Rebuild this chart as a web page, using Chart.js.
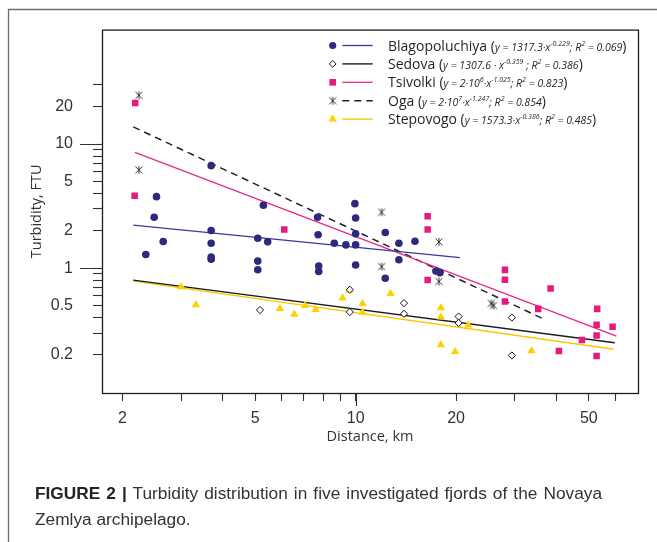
<!DOCTYPE html>
<html><head><meta charset="utf-8">
<script src="https://cdn.jsdelivr.net/npm/chart.js@4.4.0/dist/chart.umd.min.js"></script>
<style>
html,body{margin:0;padding:0;background:#fff;}
#wrap{position:relative;width:657px;height:542px;overflow:hidden;background:#fff;}
#c{position:absolute;left:0;top:0;}
.leg{position:absolute;left:388px;font-family:'Open Sans',sans-serif;font-size:14px;line-height:18px;color:#231f20;white-space:nowrap;}
.leg i{font-size:10.5px;}
.leg sup{font-size:7px;vertical-align:5px;line-height:0;}
#cap{position:absolute;left:35px;top:480px;width:567px;font-family:'Liberation Sans',Arial,sans-serif;font-size:17.3px;line-height:26px;color:#333;}
#cap .l1{display:block;text-align:justify;text-align-last:justify;white-space:nowrap;}
#cap .l2{display:block;text-align:left;}
#cap b{color:#222;}
</style></head>
<body>
<div id="wrap">
<canvas id="c" width="657" height="542"></canvas>
<div id="legend"></div>
<div id="cap"><span class="l1"><b>FIGURE 2 |</b> Turbidity distribution in five investigated fjords of the Novaya</span><span class="l2">Zemlya archipelago.</span></div>
</div>
<script>
// ---------- data ----------
const blagoX = [2.35,2.49,2.53,2.65,3.69,3.69,3.69,3.69,3.69,5.09,5.09,5.09,5.29,5.45,7.69,7.72,7.75,7.75,8.63,9.35,10.0,9.95,10.0,10.0,10.0,12.27,12.27,13.48,13.48,15.06,17.4,17.89];
const blagoY = [1.29,2.57,3.77,1.64,6.7,2.01,1.59,1.23,1.18,1.74,1.14,0.97,3.21,1.63,2.57,1.86,1.04,0.94,1.59,1.54,1.54,3.31,2.54,1.89,1.06,1.94,0.83,1.59,1.17,1.65,0.95,0.92];
const sedovaX = [5.17,9.61,9.61,13.96,13.96,20.35,20.35,29.4,29.4];
const sedovaY = [0.46,0.67,0.443,0.523,0.429,0.408,0.362,0.40,0.198];
const tsivX = [2.185,2.176,6.11,16.44,16.44,16.44,28.02,28.02,28.02,38.4,35.26,52.97,52.75,52.75,58.9,47.67,40.67,52.75];
const tsivY = [21.4,3.84,2.05,2.62,2.05,0.802,0.969,0.806,0.538,0.687,0.47,0.47,0.35,0.287,0.337,0.2635,0.215,0.196];
const ogaX = [2.24,2.24,11.96,11.96,17.77,17.77,25.5,25.9];
const ogaY = [24.7,6.19,2.82,1.03,1.63,0.781,0.52,0.50];
const stepX = [3.0,3.32,5.93,6.55,7.05,7.59,9.14,9.57,10.49,10.49,12.72,18.01,18.01,21.74,18.01,19.87,33.64];
const stepY = [0.708,0.506,0.473,0.425,0.499,0.464,0.575,0.662,0.518,0.441,0.625,0.479,0.403,0.348,0.241,0.2124,0.216];

// fitted power-law lines (end points)
const blagoFitX = [2.155,20.54];  const blagoFitY = [2.22,1.216];
const sedovaFitX = [2.155,59.8];  const sedovaFitY = [0.802,0.251];
const tsivFitX = [2.18,60.5];     const tsivFitY = [8.57,0.2836];
const ogaFitX = [2.155,36.5];     const ogaFitY = [13.75,0.391];
const stepFitX = [2.155,59.4];    const stepFitY = [0.787,0.222];

// axes
const xMin = 1.737, xMax = 70.2, yMin = 0.0987, yMax = 83.6;
const xTicks = [2,3,4,5,6,7,8,9,10,20,30,40,50,60];
const xTickLabels = [2,5,10,20,50];
const xLongTicks = [10];
const yTicks = [0.2,0.3,0.4,0.5,0.6,0.7,0.8,0.9,1,2,3,4,5,6,7,8,9,10,20,30];
const yTickLabels = [0.2,0.5,1,2,5,10,20];
const yLongTicks = [1,10];

const seriesNames = ['Blagopoluchiya','Sedova','Tsivolki','Oga','Stepovogo'];
const seriesEq = [
  'y = 1317.3·x<sup>-0.229</sup>; R<sup>2</sup> = 0.069',
  'y = 1307.6 · x<sup>-0.359</sup> ; R<sup>2</sup> = 0.386',
  'y = 2·10<sup>6</sup>·x<sup>-1.025</sup>; R<sup>2</sup> = 0.823',
  'y = 2·10<sup>7</sup>·x<sup>-1.247</sup>; R<sup>2</sup> = 0.854',
  'y = 1573.3·x<sup>-0.386</sup>; R<sup>2</sup> = 0.485'
];

// ---------- styles ----------
const navy = '#2b2a7c', navyLine = '#3a3896', mag = '#e6197d', magLine = '#e8288a', yel = '#fdd100', yelLine = '#f7c900';

function asterisk(){
  const cv = document.createElement('canvas'); cv.width = 10; cv.height = 10;
  const g = cv.getContext('2d'); g.strokeStyle = '#222'; g.lineWidth = 0.9;
  g.beginPath(); g.moveTo(1.5,1.5); g.lineTo(8.5,8.5); g.moveTo(8.5,1.5); g.lineTo(1.5,8.5);
  g.moveTo(5,1); g.lineTo(5,9); g.stroke();
  return cv;
}
const ast = asterisk();

const pts = (xs, ys) => xs.map((x,i)=>({x, y: ys[i]}));

const pointSets = [
  {data: pts(blagoX,blagoY), pointStyle:'circle', pointRadius:3.8, backgroundColor:navy, borderColor:navy, borderWidth:0},
  {data: pts(sedovaX,sedovaY), pointStyle:'rectRot', pointRadius:3.6, backgroundColor:'#fff', borderColor:'#111', borderWidth:1},
  {data: pts(tsivX,tsivY), pointStyle:'rect', pointRadius:4.6, backgroundColor:mag, borderColor:mag, borderWidth:0},
  {data: pts(ogaX,ogaY), pointStyle:ast, pointRadius:5, backgroundColor:'#333', borderColor:'#333', borderWidth:0},
  {data: pts(stepX,stepY), pointStyle:'triangle', pointRadius:4.8, backgroundColor:yel, borderColor:yel, borderWidth:0}
];
const lineSets = [
  {data: pts(blagoFitX,blagoFitY), borderColor:navyLine, borderWidth:1.3, borderDash:[]},
  {data: pts(sedovaFitX,sedovaFitY), borderColor:'#1a1a1a', borderWidth:1.4, borderDash:[]},
  {data: pts(tsivFitX,tsivFitY), borderColor:magLine, borderWidth:1.3, borderDash:[]},
  {data: pts(ogaFitX,ogaFitY), borderColor:'#222', borderWidth:1.5, borderDash:[7,5]},
  {data: pts(stepFitX,stepFitY), borderColor:yelLine, borderWidth:1.4, borderDash:[]}
];

const datasets = [];
pointSets.forEach((p,i)=>datasets.push(Object.assign({type:'scatter', label:seriesNames[i], showLine:false, pointHoverRadius:p.pointRadius, order:1}, p)));
lineSets.forEach((l,i)=>datasets.push(Object.assign({type:'line', label:seriesNames[i]+' fit', showLine:true, pointRadius:0, fill:false, tension:0, order:2}, l)));

// ---------- legend (HTML text) ----------
const legTop = 45.5, legStep = 18.4;
const legEl = document.getElementById('legend');
seriesNames.forEach((n,i)=>{
  const d = document.createElement('div'); d.className='leg';
  d.style.top = (legTop + i*legStep - 9) + 'px';
  d.innerHTML = n + ' (<i>' + seriesEq[i] + '</i>)';
  legEl.appendChild(d);
});

function drawMarker(c, style, x, y){
  c.save();
  if (style === 'circle'){ c.fillStyle = navy; c.beginPath(); c.arc(x,y,3.6,0,Math.PI*2); c.fill(); }
  else if (style === 'rectRot'){ c.fillStyle='#fff'; c.strokeStyle='#111'; c.lineWidth=1; c.beginPath(); c.moveTo(x,y-3.4); c.lineTo(x+3.4,y); c.lineTo(x,y+3.4); c.lineTo(x-3.4,y); c.closePath(); c.fill(); c.stroke(); }
  else if (style === 'rect'){ c.fillStyle = mag; c.fillRect(x-3.3,y-3.3,6.6,6.6); }
  else if (style === 'ast'){ c.drawImage(ast, x-5, y-5); }
  else if (style === 'triangle'){ c.fillStyle = yel; c.beginPath(); c.moveTo(x,y-4.8); c.lineTo(x+4.2,y+2.4); c.lineTo(x-4.2,y+2.4); c.closePath(); c.fill(); }
  c.restore();
}
const legStyles = ['circle','rectRot','rect','ast','triangle'];

const deco = {
  id:'deco',
  beforeDraw(chart){
    const c = chart.ctx;
    c.save(); c.fillStyle='#fff'; c.fillRect(0,0,chart.width,chart.height);
    c.strokeStyle='#6d6d6d'; c.lineWidth=1.3;
    c.beginPath(); c.moveTo(8,9.5); c.lineTo(chart.width,9.5); c.moveTo(8.5,9); c.lineTo(8.5,chart.height); c.stroke();
    c.restore();
  },
  afterDraw(chart){
    const c = chart.ctx, a = chart.chartArea, xs = chart.scales.x, ys = chart.scales.y;
    c.save();
    c.strokeStyle='#1e1e1e'; c.lineWidth=1.3;
    c.strokeRect(a.left+0.5, a.top+0.5, a.right-a.left, a.bottom-a.top);
    c.lineWidth=1.1; c.strokeStyle='#333';
    c.beginPath();
    yLongTicks.forEach(v=>{const p=Math.round(ys.getPixelForValue(v))+0.5; c.moveTo(a.left-22,p); c.lineTo(a.left,p);});
    xLongTicks.forEach(v=>{const p=Math.round(xs.getPixelForValue(v))+0.5; c.moveTo(p,a.bottom); c.lineTo(p,a.bottom+13);});
    c.stroke();
    // legend symbols
    lineSets.forEach((l,i)=>{
      const y = legTop + i*legStep;
      drawMarker(c, legStyles[i], 332.7, y);
      c.save(); c.strokeStyle=l.borderColor; c.lineWidth=l.borderWidth; c.setLineDash(l.borderDash);
      c.beginPath(); c.moveTo(342.3,y); c.lineTo(372.7,y); c.stroke(); c.restore();
    });
    c.restore();
  }
};

const tickFont = {family:"'Liberation Sans', Arial, sans-serif", size:16};
const titleFont = {family:"'Open Sans', sans-serif", size:14.5};

new Chart(document.getElementById('c'), {
  type:'scatter',
  data:{datasets},
  options:{
    responsive:false, animation:false, devicePixelRatio:1,
    layout:{padding:{left:0, top:27, right:19, bottom:0}},
    plugins:{legend:{display:false}, tooltip:{enabled:false}},
    events:[],
    scales:{
      x:{type:'logarithmic', position:'bottom', min:xMin, max:xMax,
        afterBuildTicks: s => { s.ticks = xTicks.map(v=>({value:v})); },
        afterFit: s => { s.height = 149; },
        ticks:{autoSkip:false, maxRotation:0, minRotation:0, padding:8.4, color:'#333', font:tickFont,
          callback: v => xTickLabels.includes(v) ? String(v) : ''},
        grid:{drawOnChartArea:false, drawTicks:true, tickLength:8, tickColor:'#333', tickWidth:1.1},
        border:{display:false},
        title:{display:true, text:'Distance, km', color:'#333', font:titleFont, padding:{top:0, bottom:96.6}}
      },
      y:{type:'logarithmic', position:'left', min:yMin, max:yMax,
        afterBuildTicks: s => { s.ticks = yTicks.map(v=>({value:v})); },
        afterFit: s => { s.width = 102; },
        ticks:{autoSkip:false, padding:20, color:'#333', font:tickFont,
          callback: v => yTickLabels.includes(v) ? String(v) : ''},
        grid:{drawOnChartArea:false, drawTicks:true, tickLength:9, tickColor:'#333', tickWidth:1.1},
        border:{display:false},
        title:{display:true, text:'Turbidity, FTU', color:'#333', font:titleFont, padding:{top:28.6, bottom:0}}
      }
    }
  },
  plugins:[deco]
});
</script>
</body></html>
